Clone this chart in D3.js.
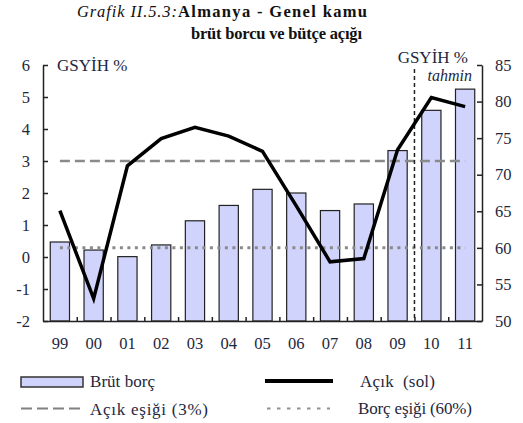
<!DOCTYPE html>
<html>
<head>
<meta charset="utf-8">
<script src="https://cdn.jsdelivr.net/npm/d3@7"></script>
<style>
  body { margin: 0; background: #fff; }
  text { font-family: "Liberation Serif", "Times New Roman", serif; }
</style>
</head>
<body>
<div id="chart"></div>
<script>
const svgWidth = 523;
const svgHeight = 423;

const margin = { top: 65, right: 41, bottom: 102, left: 43 };
const width = svgWidth - margin.left - margin.right;
const height = svgHeight - margin.top - margin.bottom;

// data
const years = ["99", "00", "01", "02", "03", "04", "05", "06", "07", "08", "09", "10", "11"];
const debt = [60.8, 59.7, 58.8, 60.4, 63.7, 65.8, 68.0, 67.5, 65.1, 66.0, 73.3, 78.8, 81.7];     // right axis
const deficit = [1.45, -1.3, 2.85, 3.7, 4.05, 3.78, 3.3, 1.6, -0.15, -0.05, 3.35, 4.98, 4.7];   // left axis
const leftTicks = [-2, -1, 0, 1, 2, 3, 4, 5, 6];
const rightTicks = [50, 55, 60, 65, 70, 75, 80, 85];
const deficitLimit = 3;
const debtLimit = 60;
const forecastFrom = "10";

const textColor = "#1e2740";

const svg = d3.select("#chart")
  .append("svg")
  .attr("width", svgWidth)
  .attr("height", svgHeight);

// title (stretched to the widths in the original)
svg.append("text")
  .attr("x", 77).attr("y", 17)
  .attr("textLength", 100).attr("lengthAdjust", "spacing")
  .style("font-size", "16.5px")
  .style("font-style", "italic")
  .attr("fill", "#111")
  .text("Grafik II.5.3:");

svg.append("text")
  .attr("x", 178).attr("y", 17)
  .attr("textLength", 189).attr("lengthAdjust", "spacing")
  .style("font-size", "16.5px")
  .style("font-weight", "bold")
  .attr("fill", "#111")
  .text("Almanya - Genel kamu");

svg.append("text")
  .attr("x", 191).attr("y", 39)
  .attr("textLength", 171).attr("lengthAdjust", "spacing")
  .style("font-size", "16.5px")
  .style("font-weight", "bold")
  .attr("fill", "#111")
  .text("brüt borcu ve bütçe açığı");

const chartGroup = svg.append("g")
  .attr("transform", `translate(${margin.left}, ${margin.top})`);

// scales
const xScale = d3.scaleBand()
  .domain(years)
  .range([0, width])
  .paddingInner(0.43)
  .paddingOuter(0.215);

const xEdge = d3.scaleLinear()
  .domain([0, years.length])
  .range([0, width]);

const yLeft = d3.scaleLinear().domain([-2, 6]).range([height, 0]);
const yRight = d3.scaleLinear().domain([50, 85]).range([height, 0]);

const cx = d => xScale(d) + xScale.bandwidth() / 2;

// bars
chartGroup.selectAll("rect.bar")
  .data(years)
  .enter()
  .append("rect")
  .attr("class", "bar")
  .attr("x", d => xScale(d))
  .attr("width", xScale.bandwidth())
  .attr("y", (d, i) => yRight(debt[i]))
  .attr("height", (d, i) => height - yRight(debt[i]))
  .attr("fill", "#d0d3fb")
  .attr("stroke", "#222")
  .attr("stroke-width", 1.2);

// threshold lines
chartGroup.append("line")
  .attr("x1", cx(years[0]))
  .attr("x2", cx(years[years.length - 1]))
  .attr("y1", yLeft(deficitLimit))
  .attr("y2", yLeft(deficitLimit))
  .attr("stroke", "#8a8a8a")
  .attr("stroke-width", 2.5)
  .attr("stroke-dasharray", "10,5");

chartGroup.append("line")
  .attr("x1", cx(years[0]))
  .attr("x2", cx(years[years.length - 1]))
  .attr("y1", yRight(debtLimit))
  .attr("y2", yRight(debtLimit))
  .attr("stroke", "#8a8a8a")
  .attr("stroke-width", 3)
  .attr("stroke-dasharray", "3,4.5");

// forecast divider
const xf = xEdge(years.indexOf(forecastFrom));
chartGroup.append("line")
  .attr("x1", xf).attr("x2", xf)
  .attr("y1", 4).attr("y2", height)
  .attr("stroke", "#222")
  .attr("stroke-width", 1.5)
  .attr("stroke-dasharray", "4,3");

// deficit line
const line = d3.line()
  .x((d, i) => cx(years[i]))
  .y(d => yLeft(d));

chartGroup.append("path")
  .datum(deficit)
  .attr("d", line)
  .attr("fill", "none")
  .attr("stroke", "#000")
  .attr("stroke-width", 3.5)
  .attr("stroke-linejoin", "miter");

// axes
const leftAxis = d3.axisLeft(yLeft)
  .tickValues(leftTicks)
  .tickFormat(d => String(d))
  .tickSizeInner(-5)
  .tickSizeOuter(0)
  .tickPadding(13);

const rightAxis = d3.axisRight(yRight)
  .tickValues(rightTicks)
  .tickFormat(d => String(d))
  .tickSizeInner(-5)
  .tickSizeOuter(0)
  .tickPadding(13);

const edgeAxis = d3.axisBottom(xEdge)
  .tickValues(d3.range(1, years.length))
  .tickSizeInner(-4)
  .tickSizeOuter(0)
  .tickFormat("");

const labelAxis = d3.axisBottom(xScale)
  .tickSize(0)
  .tickPadding(16);

function styleText(g) {
  g.attr("font-family", null);
  g.selectAll(".tick text")
    .style("font-family", "'Liberation Serif', serif")
    .style("font-size", "16.5px")
    .attr("fill", textColor);
}

function styleAxis(g) {
  g.select(".domain").attr("stroke", "#222").attr("stroke-width", 1.5);
  g.selectAll(".tick line").attr("stroke", "#222").attr("stroke-width", 1.5);
  styleText(g);
}

chartGroup.append("g").call(leftAxis).call(styleAxis);
chartGroup.append("g").attr("transform", `translate(${width}, 0)`).call(rightAxis).call(styleAxis);
chartGroup.append("g").attr("transform", `translate(0, ${height})`).call(edgeAxis).call(styleAxis);
chartGroup.append("g").attr("transform", `translate(0, ${height})`).call(labelAxis).call(g => {
  g.select(".domain").remove();
  styleText(g);
});

// axis unit labels
svg.append("text")
  .attr("x", 57).attr("y", 71)
  .style("font-size", "17px")
  .attr("fill", textColor)
  .text("GSYİH %");

svg.append("text")
  .attr("x", 468).attr("y", 63)
  .attr("text-anchor", "end")
  .style("font-size", "17px")
  .attr("fill", textColor)
  .text("GSYİH %");

svg.append("text")
  .attr("x", 472).attr("y", 81)
  .attr("text-anchor", "end")
  .style("font-size", "16px")
  .style("font-style", "italic")
  .attr("fill", textColor)
  .text("tahmin");

// legend
const legend = svg.append("g");

legend.append("rect")
  .attr("x", 21).attr("y", 377)
  .attr("width", 62).attr("height", 10)
  .attr("fill", "#d0d3fb")
  .attr("stroke", "#333")
  .attr("stroke-width", 1.5);

legend.append("line")
  .attr("x1", 265).attr("x2", 333)
  .attr("y1", 381).attr("y2", 381)
  .attr("stroke", "#000")
  .attr("stroke-width", 4);

legend.append("line")
  .attr("x1", 21).attr("x2", 83)
  .attr("y1", 408.5).attr("y2", 408.5)
  .attr("stroke", "#808080")
  .attr("stroke-width", 2)
  .attr("stroke-dasharray", "11,5");

legend.append("line")
  .attr("x1", 267).attr("x2", 330)
  .attr("y1", 408.5).attr("y2", 408.5)
  .attr("stroke", "#909090")
  .attr("stroke-width", 2)
  .attr("stroke-dasharray", "3.5,6.5");

const legendLabels = [
  { text: "Brüt borç", x: 90, y: 387, w: 65 },
  { text: "Açık  (sol)", x: 360, y: 387, w: 75 },
  { text: "Açık eşiği (3%)", x: 90, y: 415, w: 118 },
  { text: "Borç eşiği (60%)", x: 358, y: 414, w: 114 }
];

legend.selectAll("text.leg")
  .data(legendLabels)
  .enter()
  .append("text")
  .attr("class", "leg")
  .attr("x", d => d.x)
  .attr("y", d => d.y)
  .attr("textLength", d => d.w)
  .attr("lengthAdjust", "spacing")
  .style("font-size", "17px")
  .style("white-space", "pre")
  .attr("fill", textColor)
  .text(d => d.text);
</script>
</body>
</html>
